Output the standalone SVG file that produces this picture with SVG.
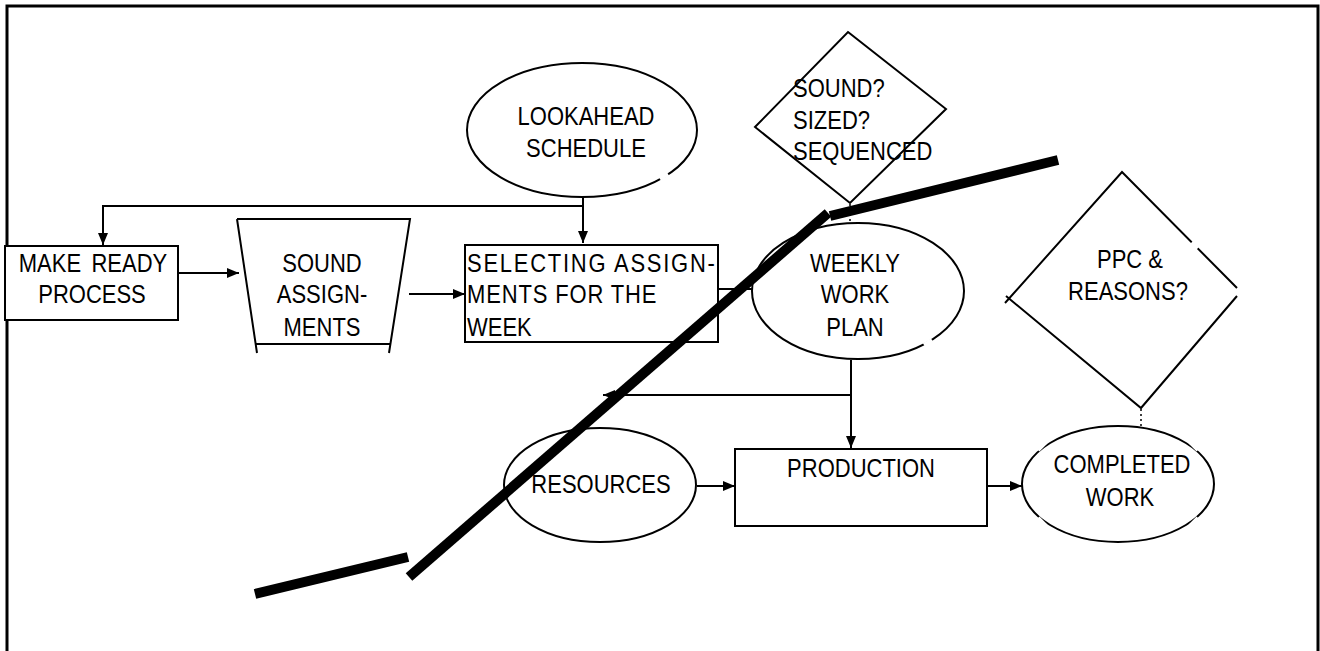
<svg xmlns="http://www.w3.org/2000/svg" width="1320" height="651" viewBox="0 0 1320 651">
<defs>
<marker id="ah" viewBox="0 0 12 10" refX="12" refY="5" markerWidth="12" markerHeight="10" markerUnits="userSpaceOnUse" orient="auto">
<path d="M0,0 L12,5 L0,10 Z" fill="#000"/>
</marker>
<style>
.s{fill:none;stroke:#000;stroke-width:2}
.w{fill:#fff;stroke:#000;stroke-width:2}
.c{fill:none;stroke:#000;stroke-width:2;marker-end:url(#ah)}
.d{fill:none;stroke:#000;stroke-width:1.5;stroke-dasharray:2 3}
.t{font-family:"Liberation Sans",Arial,sans-serif;font-size:26px;fill:#000}
.m{text-anchor:middle}
.gap{fill:none;stroke:#fff;stroke-width:4}
.thick{fill:none;stroke:#000;stroke-width:10;stroke-linecap:butt}
</style>
</defs>
<rect width="1320" height="651" fill="#fff"/>
<path d="M7,651 V6 H1318 V651" fill="none" stroke="#000" stroke-width="3"/>

<g id="connectors">
<path class="c" d="M583,206 H103 V245"/>
<path class="c" d="M583,197 V243"/>
<path class="c" d="M178,273 H239"/>
<path class="c" d="M409,294 H465"/>
<path class="s" d="M718,289 H753"/>
<path class="c" d="M851,360 V448"/>
<path class="c" d="M851,395 H603"/>
<path class="c" d="M697,486 H735"/>
<path class="c" d="M987,486 H1022"/>
<path class="d" d="M850,204 V223"/>
<path class="d" d="M1141,409 V427"/>
</g>

<g id="make-ready">
<rect class="w" x="5" y="246" width="173" height="74"/>
<text class="t m" transform="translate(93,272) scale(.846,1)" word-spacing="5">MAKE READY</text>
<text class="t m" transform="translate(92,303) scale(.846,1)">PROCESS</text>
</g>

<g id="sound-assignments">
<path class="s" d="M237,219 H410 L389,353 M237,219 L257,353 M256,344 H390"/>
<text class="t m" transform="translate(322,272) scale(.846,1)">SOUND</text>
<text class="t m" transform="translate(322,303) scale(.846,1)">ASSIGN-</text>
<text class="t m" transform="translate(322,336) scale(.846,1)">MENTS</text>
</g>

<g id="lookahead">
<ellipse class="w" cx="582" cy="130" rx="115" ry="67"/>
<path class="gap" d="M660,179 L668,174"/>
<text class="t m" transform="translate(586,125) scale(.846,1)">LOOKAHEAD</text>
<text class="t m" transform="translate(586,157) scale(.846,1)">SCHEDULE</text>
</g>

<g id="selecting">
<rect class="w" x="465" y="245" width="253" height="97"/>
<text class="t" transform="translate(467,272) scale(.846,1)" textLength="293" lengthAdjust="spacing">SELECTING ASSIGN-</text>
<text class="t" transform="translate(467,303) scale(.846,1)" textLength="224" lengthAdjust="spacing">MENTS FOR THE</text>
<text class="t" transform="translate(467,336) scale(.846,1)">WEEK</text>
</g>

<g id="sound-check">
<path class="w" d="M848,32 L946,109 L850,203 L755,127 Z"/>
<text class="t" transform="translate(793,97) scale(.846,1)">SOUND?</text>
<text class="t" transform="translate(793,129) scale(.846,1)">SIZED?</text>
<text class="t" transform="translate(793,160) scale(.846,1)">SEQUENCED</text>
</g>

<g id="weekly">
<ellipse class="w" cx="858" cy="291" rx="106" ry="68"/>
<path class="gap" d="M924,345 L932,340"/>
<text class="t m" transform="translate(855,272) scale(.846,1)">WEEKLY</text>
<text class="t m" transform="translate(855,303) scale(.846,1)">WORK</text>
<text class="t m" transform="translate(855,336) scale(.846,1)">PLAN</text>
</g>

<g id="ppc">
<path class="s" d="M1005,303 L1122,172 L1237,288 M1237,296 L1141,408 L1006,296"/>
<path class="gap" d="M1192,242 L1198,248"/>
<text class="t m" transform="translate(1130,268) scale(.846,1)">PPC &amp;</text>
<text class="t m" transform="translate(1128,300) scale(.846,1)">REASONS?</text>
</g>

<g id="resources">
<ellipse class="w" cx="600" cy="485" rx="96" ry="57"/>
<text class="t m" transform="translate(601,493) scale(.846,1)">RESOURCES</text>
</g>

<g id="production">
<rect class="w" x="735" y="449" width="252" height="77"/>
<text class="t m" transform="translate(861,477) scale(.846,1)">PRODUCTION</text>
</g>

<g id="completed">
<ellipse class="w" cx="1118" cy="484" rx="96" ry="58"/>
<path class="gap" d="M1038,450 L1046,442 M1190,442 L1198,450 M1038,518 L1046,526 M1190,526 L1198,518"/>
<text class="t m" transform="translate(1122,473) scale(.846,1)">COMPLETED</text>
<text class="t m" transform="translate(1120,506) scale(.846,1)">WORK</text>
</g>

<g id="overlay-line">
<path class="thick" d="M255,594 L408,557"/>
<path class="thick" d="M409,577 L828,213"/>
<path class="thick" d="M830,216 L1058,160"/>
</g>
</svg>
